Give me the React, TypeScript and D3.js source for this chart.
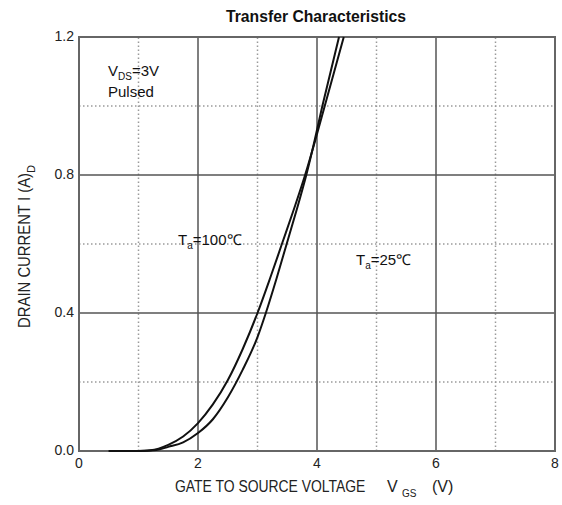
import * as d3 from "d3";
import { useEffect, useRef } from "react";

// Gate voltage (V) / drain current (A)
const vgs25 = [0.5, 1.0, 1.3, 1.5, 1.75, 2.0, 2.25, 2.5, 2.75, 3.0, 3.14, 3.32, 3.49, 3.66, 3.82, 3.96, 4.09, 4.23, 4.37];
const id25 = [0, 0, 0.003, 0.012, 0.025, 0.052, 0.092, 0.155, 0.235, 0.33, 0.4, 0.5, 0.6, 0.7, 0.8, 0.9, 1.0, 1.1, 1.2];

const vgs100 = [0.5, 1.0, 1.2, 1.5, 1.75, 2.0, 2.25, 2.5, 2.75, 3.0, 3.21, 3.41, 3.61, 3.8, 3.97, 4.13, 4.29, 4.45];
const id100 = [0, 0, 0.002, 0.018, 0.042, 0.081, 0.135, 0.205, 0.295, 0.4, 0.5, 0.6, 0.7, 0.8, 0.9, 1.0, 1.1, 1.2];

const xTicks = [0, 2, 4, 6, 8];
const xMinor = [1, 3, 5, 7];
const yTicks = [0, 0.4, 0.8, 1.2];
const yMinor = [0.2, 0.6, 1.0];

const font = "'Liberation Sans', Arial, sans-serif";

function chart() {
  const width = 562;
  const height = 505;
  const marginTop = 37;
  const marginRight = 7;
  const marginBottom = 54;
  const marginLeft = 79;

  const x = d3.scaleLinear().domain([0, 8]).range([marginLeft, width - marginRight]);
  const y = d3.scaleLinear().domain([0, 1.2]).range([height - marginBottom, marginTop]);

  const svg = d3.create("svg")
      .attr("width", width)
      .attr("height", height)
      .attr("viewBox", [0, 0, width, height])
      .attr("style", `position:absolute;left:0;top:0;background:#fff;font-family:${font};`);

  // dotted minor grid
  const minor = svg.append("g")
      .attr("stroke", "#9a9a9a")
      .attr("stroke-width", 1.5)
      .attr("stroke-dasharray", "1.5,2.5");
  minor.selectAll().data(xMinor).join("line")
      .attr("x1", d => x(d)).attr("x2", d => x(d))
      .attr("y1", y(0)).attr("y2", y(1.2));
  minor.selectAll().data(yMinor).join("line")
      .attr("y1", d => y(d)).attr("y2", d => y(d))
      .attr("x1", x(0)).attr("x2", x(8));

  // solid major grid
  const major = svg.append("g")
      .attr("stroke", "#555")
      .attr("stroke-width", 1.5);
  major.selectAll().data(xTicks.slice(1, -1)).join("line")
      .attr("x1", d => x(d)).attr("x2", d => x(d))
      .attr("y1", y(0)).attr("y2", y(1.2));
  major.selectAll().data(yTicks.slice(1, -1)).join("line")
      .attr("y1", d => y(d)).attr("y2", d => y(d))
      .attr("x1", x(0)).attr("x2", x(8));

  // frame
  svg.append("rect")
      .attr("x", x(0)).attr("y", y(1.2))
      .attr("width", x(8) - x(0)).attr("height", y(0) - y(1.2))
      .attr("fill", "none")
      .attr("stroke", "#666")
      .attr("stroke-width", 2);

  // curves
  const line = d3.line<[number, number]>()
      .x(d => x(d[0]))
      .y(d => y(d[1]))
      .curve(d3.curveMonotoneX);
  const series = [d3.zip(vgs25, id25), d3.zip(vgs100, id100)] as [number, number][][];
  svg.append("g")
      .attr("fill", "none")
      .attr("stroke", "#111")
      .attr("stroke-width", 2)
    .selectAll()
    .data(series)
    .join("path")
      .attr("d", d => line(d));

  // tick labels
  svg.append("g")
      .attr("font-size", 14)
      .attr("text-anchor", "middle")
      .attr("fill", "#222")
    .selectAll()
    .data(xTicks)
    .join("text")
      .attr("x", d => x(d))
      .attr("y", y(0) + 17)
      .text(d => d);
  svg.append("g")
      .attr("font-size", 14)
      .attr("text-anchor", "end")
      .attr("fill", "#222")
    .selectAll()
    .data(yTicks)
    .join("text")
      .attr("x", x(0) - 5)
      .attr("y", d => y(d) + 4)
      .text(d => d.toFixed(1));

  // title
  svg.append("text")
      .attr("x", 316).attr("y", 22)
      .attr("text-anchor", "middle")
      .attr("font-size", 17)
      .attr("font-weight", "bold")
      .attr("fill", "#111")
      .attr("textLength", 180)
      .attr("lengthAdjust", "spacingAndGlyphs")
      .text("Transfer Characteristics");

  // x axis title (narrowed horizontally like the original typeface)
  const xTitle = svg.append("g")
      .attr("font-size", 16)
      .attr("fill", "#222");
  xTitle.append("text")
      .attr("transform", "translate(175,492) scale(0.87,1)")
      .text("GATE TO SOURCE VOLTAGE");
  xTitle.append("text").attr("x", 387).attr("y", 492).text("V");
  xTitle.append("text").attr("x", 402).attr("y", 497).attr("font-size", 10).text("GS");
  xTitle.append("text").attr("x", 432).attr("y", 492).text("(V)");

  // y axis title
  const yt = svg.append("text")
      .attr("transform", "translate(30,328) rotate(-90)")
      .attr("font-size", 16)
      .attr("fill", "#222");
  yt.append("tspan")
      .attr("textLength", 155).attr("lengthAdjust", "spacingAndGlyphs")
      .text("DRAIN CURRENT I (A)");
  yt.append("tspan").attr("dx", 0).attr("dy", 5).attr("font-size", 11).text("D");

  // annotations
  const note = (tx: number, ty: number, main: string, sub: string, rest: string) => {
    const t = svg.append("text")
        .attr("x", tx).attr("y", ty)
        .attr("font-size", 15)
        .attr("fill", "#111");
    t.append("tspan").text(main);
    t.append("tspan").attr("dy", 4).attr("font-size", 10).text(sub);
    t.append("tspan").attr("dy", -4).text(rest);
  };
  note(108, 76, "V", "DS", "=3V");
  note(178, 245, "T", "a", "=100\u2103");
  note(356, 265, "T", "a", "=25\u2103");
  svg.append("text")
      .attr("x", 108).attr("y", 97)
      .attr("font-size", 15)
      .attr("fill", "#111")
      .text("Pulsed");

  return svg.node();
}

function App() {
  const divRef = useRef<HTMLDivElement | null>(null);
  useEffect(() => {
    const node = chart();
    if (divRef.current && node) {
      divRef.current.innerHTML = "";
      divRef.current.appendChild(node);
    }
  }, []);
  return <div ref={divRef} />;
}

export default App;
